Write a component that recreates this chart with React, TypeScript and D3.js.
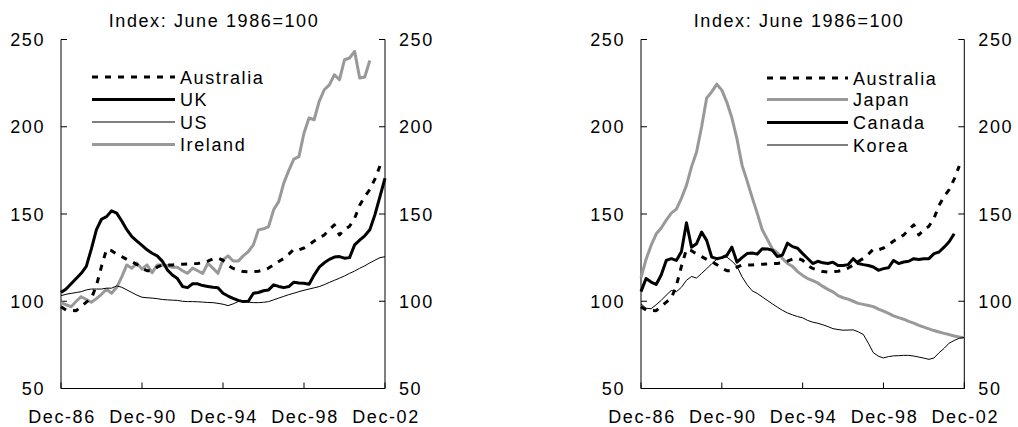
import React from "react";
import * as d3 from "d3";

// Quarterly observations, Dec-86 (index 0) to Dec-02 (index 64)
const quarterTicks = ["Dec-86", "Dec-90", "Dec-94", "Dec-98", "Dec-02"];
const quarterTickIndex = [0, 16, 32, 48, 64];
const yTicks = [50, 100, 150, 200, 250];
const titleText = "Index: June 1986=100";

const australia: (number | null)[] = [
  96.9, 95, 94.7, 94.6, 97, 99.5, 101.7, 109, 120, 129.8, 129, 127, 125.6, 124, 122.7, 121, 118.9,
  117.5, 117.5, 119.5, 120.8, 120.8, 120.8, 121, 121.2, 121.4, 121.5, 121.7, 122, 123, 124.2, 124.7,
  123.5, 120.5, 118.8, 117.8, 117, 116.8, 117, 117.2, 117.8, 119, 120.8, 122.8, 124.5, 127, 129.8,
  129.5, 130.5, 132.3, 134.5, 136.1, 138, 141, 143.8, 138, 141, 143, 147.5, 155, 160, 164, 170, 177.5, null,
];
const uk: (number | null)[] = [
  105, 107, 110, 113, 116, 120, 130, 141, 147, 148.5, 151.8, 150.5, 146, 141, 137, 134.5, 132,
  129.5, 127.5, 126, 123, 118, 115, 113, 108.5, 107.8, 110, 110, 109, 108.5, 108, 107.8,
  104.6, 103, 101.7, 100.5, 99.8, 100, 104.6, 105, 106, 106.5, 109.4, 108.5, 107.8, 108.4, 110.9,
  110.5, 110.3, 109.7, 115, 119.5, 122, 124, 125.3, 125.6, 124.7, 125, 132.3, 135, 137.5, 141, 149.5, 160, 170.5,
];
const us: (number | null)[] = [
  103.2, 104, 104.5, 105, 105.5, 106.5, 107, 107, 107, 107.5, 107.5, 108.8, 108, 106.5, 105, 103.5, 102.3,
  102, 101.8, 101.5, 101, 100.8, 100.6, 100.5, 100, 99.8, 99.8, 99.7, 99.5, 99.3, 99.2, 98.8,
  98.3, 97.5, 98.5, 99.8, 100.2, 99.5, 99.2, 99.2, 99.4, 99.8, 100.8, 101.8, 102.8, 103.8, 104.6,
  105.5, 106.3, 107, 107.7, 108.4, 109.5, 110.8, 112, 113.2, 114.5, 116, 117.3, 118.9, 120.3, 122, 123.5, 125, 125.5,
];
const ireland: (number | null)[] = [
  99.2, 98, 96.9, 100, 102.6, 101, 99.4, 101.5, 104, 106.9, 104.6, 108, 114, 120.8, 118.9, 121.8, 118.4,
  120.8, 116.4, 120.8, 120.8, 120.5, 119.5, 119.5, 117.5, 116, 119, 117.5, 116, 121.8, 119, 116,
  123.7, 126, 123.1, 123, 126, 128.5, 132.3, 140.9, 141.5, 142.8, 152.4, 157.1, 167.7, 175, 181.5,
  182.9, 196.4, 205, 204, 214.5, 221.2, 224, 229.8, 226.9, 238.4, 239.4, 243.2, 227.9, 228.5, 238, null, null, null,
];
const japan: (number | null)[] = [
  113.5, 124, 132, 138.5, 142, 146.5, 150.5, 152.8, 159, 166.4, 177, 185.5, 200, 216.5, 220, 224.4, 221,
  214, 205, 193, 178, 169, 159.5, 150.5, 141, 135.5, 130, 127.8, 124.5, 121.6, 120, 117,
  114.8, 113, 111.8, 110.5, 108.5, 106.8, 105.4, 103.2, 102, 101.2, 100, 98.8, 98.2, 97.6, 96.9,
  95.5, 94.3, 93, 91.6, 90.6, 89.7, 88.5, 87.5, 86.2, 85.2, 84.2, 83.2, 82.4, 81.6, 80.9, 80.1, 79.5, 79,
];
const canada: (number | null)[] = [
  105.5, 113, 111, 109.6, 115, 123.4, 124.4, 123.4, 128.4, 145, 131, 133, 139.6, 134.9, 125.3, 124.4, 125,
  126.3, 131, 122.4, 125, 127.3, 127.6, 127, 130.1, 130, 129.2, 125.6, 126.5, 133.3, 131.3, 130.4,
  127.3, 124.5, 121.6, 122.9, 122, 121.6, 122.4, 120.5, 120.5, 121, 124.4, 121.6, 121, 120.5, 119.6,
  117.7, 118.7, 119.2, 123.4, 121.6, 122.5, 122.9, 124.4, 123.9, 124.4, 124.4, 127.3, 128.2, 131, 134.1, 138.7, null, null,
];
const korea: (number | null)[] = [
  98.5, 96, 95.7, 98, 100.5, 103.5, 106.2, 105.5, 108, 112, 114.2, 113.3, 116, 118.6, 121.5, 124, 124.8,
  125.3, 123, 120, 114, 109.5, 106, 104.5, 102.5, 100.5, 98.5, 96.6, 94.8, 93.3, 92.2, 91.2,
  90.5, 89, 88, 87.4, 86.5, 85.5, 84.3, 83.8, 83.4, 83.5, 83.6, 82.5, 81, 76, 70.5, 68.5,
  67.5, 68.3, 68.7, 68.8, 69, 69, 68.6, 68, 67.4, 66.7, 67.5, 70.5, 73, 76, 77.5, 78.8, 79.3,
];

type Series = { name: string; values: (number | null)[]; style: "dash" | "thick" | "thin" | "grey" };

const leftSeries: Series[] = [
  { name: "Australia", values: australia, style: "dash" },
  { name: "UK", values: uk, style: "thick" },
  { name: "US", values: us, style: "thin" },
  { name: "Ireland", values: ireland, style: "grey" },
];
const rightSeries: Series[] = [
  { name: "Australia", values: australia, style: "dash" },
  { name: "Japan", values: japan, style: "grey" },
  { name: "Canada", values: canada, style: "thick" },
  { name: "Korea", values: korea, style: "thin" },
];
const leftDrawOrder = ["Ireland", "US", "UK", "Australia"];
const rightDrawOrder = ["Japan", "Korea", "Canada", "Australia"];

const FONT = "'Liberation Sans', Arial, sans-serif";
const FS = 18;
const LS = 1.6;

function strokeProps(style: Series["style"]) {
  switch (style) {
    case "dash":
      return { stroke: "#000", strokeWidth: 3, strokeDasharray: "6 7" };
    case "thick":
      return { stroke: "#000", strokeWidth: 3 };
    case "thin":
      return { stroke: "#000", strokeWidth: 1 };
    default:
      return { stroke: "#999", strokeWidth: 3 };
  }
}

function Panel(props: {
  x0: number;
  x1: number;
  titleX: number;
  series: Series[];
  order: string[];
  legendX0: number;
  legendX1: number;
  legendYs: number[];
}) {
  const { x0, x1, series, order } = props;
  const x = d3.scaleLinear().domain([0, 64]).range([x0, x1]);
  const y = d3.scaleLinear().domain([50, 250]).range([388.5, 39.5]);
  const line = d3
    .line<number | null>()
    .defined((d) => d != null)
    .x((_, i) => x(i))
    .y((d) => y(d as number));
  const bottom = y(50);
  const top = y(250);
  const textStyle = { fontFamily: FONT, fontSize: FS, letterSpacing: LS } as React.CSSProperties;
  return (
    <g>
      <text x={props.titleX} y={27} textAnchor="middle" style={textStyle}>
        {titleText}
      </text>
      {/* axes */}
      <line x1={x0} x2={x0} y1={top} y2={bottom} stroke="#000" strokeWidth={1} />
      <line x1={x1} x2={x1} y1={top} y2={bottom} stroke="#000" strokeWidth={1} />
      <line x1={x0} x2={x1} y1={bottom} y2={bottom} stroke="#000" strokeWidth={1} />
      {yTicks.map((t) => (
        <g key={t}>
          <line x1={x0} x2={x0 + 6} y1={y(t)} y2={y(t)} stroke="#000" />
          <line x1={x1 - 6} x2={x1} y1={y(t)} y2={y(t)} stroke="#000" />
          <text x={x0 - 16} y={y(t) + 6.5} textAnchor="end" style={textStyle}>
            {t}
          </text>
          <text x={x1 + 14} y={y(t) + 6.5} textAnchor="start" style={textStyle}>
            {t}
          </text>
        </g>
      ))}
      {quarterTickIndex.map((q, k) => (
        <g key={q}>
          <line x1={x(q)} x2={x(q)} y1={bottom} y2={bottom - 6} stroke="#000" />
          <text x={x(q) + 1} y={423} textAnchor="middle" style={textStyle}>
            {quarterTicks[k]}
          </text>
        </g>
      ))}
      {/* series */}
      {order.map((nm) => {
        const s = series.find((d) => d.name === nm)!;
        return <path key={nm} d={line(s.values) || ""} fill="none" {...strokeProps(s.style)} strokeLinejoin="round" />;
      })}
      {/* legend */}
      {series.map((s, k) => (
        <g key={s.name}>
          <line
            x1={props.legendX0}
            x2={props.legendX1}
            y1={props.legendYs[k]}
            y2={props.legendYs[k]}
            {...strokeProps(s.style)}
          />
          <text x={props.legendX1 + 5} y={props.legendYs[k] + 6.5} style={textStyle}>
            {s.name}
          </text>
        </g>
      ))}
    </g>
  );
}

export default function App() {
  return (
    <div style={{ position: "absolute", left: 0, top: 0 }}>
      <svg width={1018} height={427} style={{ display: "block", background: "#fff" }}>
        <rect width={1018} height={427} fill="#fff" />
        <Panel
          x0={61}
          x1={385}
          titleX={214}
          series={leftSeries}
          order={leftDrawOrder}
          legendX0={92}
          legendX1={175}
          legendYs={[77, 99.5, 122, 144.5]}
        />
        <Panel
          x0={641}
          x1={964.3}
          titleX={799}
          series={rightSeries}
          order={rightDrawOrder}
          legendX0={767}
          legendX1={848}
          legendYs={[78, 99.5, 122.5, 145]}
        />
      </svg>
    </div>
  );
}
